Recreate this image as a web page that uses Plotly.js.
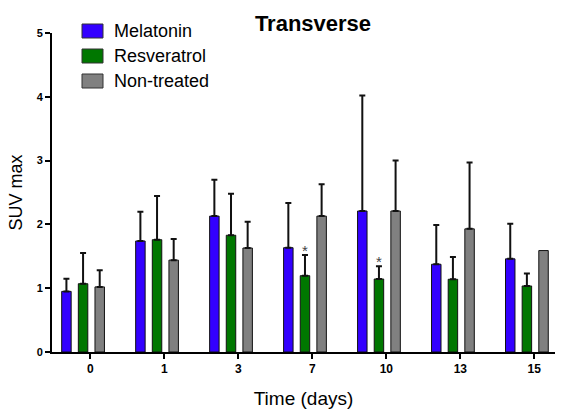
<!DOCTYPE html>
<html>
<head>
<meta charset="utf-8">
<script src="https://cdn.plot.ly/plotly-3.0.1.min.js"></script>
<style>html,body{margin:0;padding:0;background:#fff;}#chart{width:566px;height:410px;}</style>
</head>
<body>
<div id="chart"></div>
<script>
var days = ['0', '1', '3', '7', '10', '13', '15'];
var seriesNames = ['Melatonin', 'Resveratrol', 'Non-treated'];
var melatonin = [0.95, 1.74, 2.13, 1.635, 2.21, 1.375, 1.46];
var melatoninErr = [0.20, 0.46, 0.57, 0.70, 1.81, 0.615, 0.55];
var resveratrol = [1.07, 1.76, 1.83, 1.196, 1.144, 1.14, 1.035];
var resveratrolErr = [0.48, 0.685, 0.65, 0.325, 0.20, 0.35, 0.195];
var nonTreated = [1.02, 1.44, 1.63, 2.13, 2.21, 1.93, 1.59];
var nonTreatedErr = [0.26, 0.33, 0.41, 0.50, 0.79, 1.04, null];
var significant = [false, false, false, true, true, false, false];

var FONT = 'Liberation Sans, Arial, sans-serif';
var COLORS = ['#3300FF', '#007700', '#808080'];
var W = 0.128;

function errArr(a){ return a.map(function(v){ return v === null ? NaN : v; }); }

function barTrace(name, y, err, color, center){
  return {
    type: 'bar', name: name, x: days, y: y,
    width: W, offset: center - W/2,
    marker: {color: color, line: {color: '#111', width: 1}},
    error_y: {type: 'data', symmetric: false, array: errArr(err), arrayminus: [],
              color: '#111', thickness: 2, width: 3}
  };
}

var data = [
  barTrace(seriesNames[0], melatonin, melatoninErr, COLORS[0], -0.325),
  barTrace(seriesNames[1], resveratrol, resveratrolErr, COLORS[1], -0.10),
  barTrace(seriesNames[2], nonTreated, nonTreatedErr, COLORS[2], 0.125)
];

var annotations = [];
significant.forEach(function(s, i){
  if (s) {
    annotations.push({
      x: i - 0.10, y: resveratrol[i] + resveratrolErr[i], xref: 'x', yref: 'y',
      text: '*', showarrow: false, yanchor: 'bottom', yshift: -6,
      font: {family: FONT, size: 15, color: '#444'}
    });
  }
});

// legend drawn with larger swatches (plot area: 52..555 px wide, 33..352 px tall)
var shapes = [];
var PL = 52, PW = 503, PB = 352, PH = 319;
seriesNames.forEach(function(n, k){
  var cy = 31 + 25 * k;
  shapes.push({
    type: 'rect', xref: 'paper', yref: 'paper',
    x0: (82 - PL) / PW, x1: (103 - PL) / PW,
    y0: (PB - (cy + 7)) / PH, y1: (PB - (cy - 7)) / PH,
    fillcolor: COLORS[k], line: {color: '#333', width: 1}
  });
  annotations.push({
    xref: 'paper', yref: 'paper', x: (112 - PL) / PW, y: (PB - cy) / PH,
    xanchor: 'left', yanchor: 'middle', showarrow: false, text: n,
    font: {family: FONT, size: 18, color: '#000'}
  });
});

var layout = {
  width: 566, height: 410,
  margin: {l: 52, r: 11, t: 33, b: 58},
  paper_bgcolor: '#fff', plot_bgcolor: '#fff',
  barmode: 'overlay',
  showlegend: false,
  title: {text: '<b>Transverse</b>', x: 0.553, xanchor: 'center', y: 0.944, yanchor: 'middle',
          font: {family: FONT, size: 22, color: '#000'}},
  xaxis: {
    type: 'category', range: [-0.52, 6.28],
    showline: true, linecolor: '#000', linewidth: 2,
    ticks: 'outside', ticklen: 5, tickwidth: 2, tickcolor: '#000',
    showgrid: false, zeroline: false,
    tickfont: {family: FONT, size: 12, color: '#000', weight: 'bold'},
    title: {text: 'Time (days)', font: {family: FONT, size: 19, color: '#000'}, standoff: 16}
  },
  yaxis: {
    range: [0, 5], tickvals: [0, 1, 2, 3, 4, 5],
    showline: true, linecolor: '#000', linewidth: 2,
    ticks: 'outside', ticklen: 5, tickwidth: 2, tickcolor: '#000',
    showgrid: false, zeroline: false,
    tickfont: {family: FONT, size: 11, color: '#000', weight: 'bold'},
    title: {text: 'SUV max', font: {family: FONT, size: 18, color: '#000'}, standoff: 9}
  },
  shapes: shapes,
  annotations: annotations
};

Plotly.newPlot('chart', data, layout, {displayModeBar: false, staticPlot: true});
</script>
</body>
</html>
